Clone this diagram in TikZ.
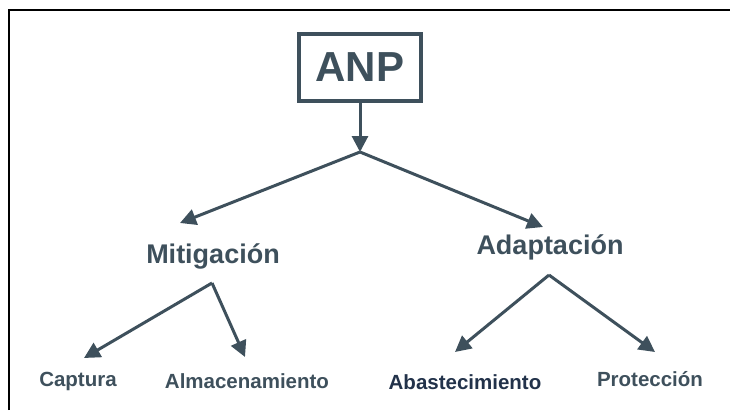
\documentclass[tikz,border=0pt]{standalone}
\usepackage{fontspec}
\setmainfont{Liberation Sans}
\usetikzlibrary{arrows.meta}
\definecolor{Slate}{HTML}{3E505C}
\definecolor{Navy}{HTML}{22324A}
\tikzset{
  lvlone/.style={text=Slate,font=\bfseries\fontsize{27}{27}\selectfont,inner sep=0pt},
  lvltwo/.style={text=Slate,font=\bfseries\fontsize{20.5}{20.5}\selectfont,inner sep=0pt},
  link/.style={->,Slate,line width=3pt}
}

\begin{document}
\begin{tikzpicture}[x=1pt,y=-1pt,>={Triangle[length=16pt,width=16pt]}]
    \useasboundingbox (0,0) rectangle (730,410);
    \draw[line width=2.5pt] (9,410)--(9,10)--(730,10);
    % top box
    \node[draw=Slate,line width=4pt,minimum width=122pt,minimum height=67pt,text=Slate,font=\bfseries\fontsize{42}{42}\selectfont] (anp) at (360,67) {ANP};
    \coordinate (j0) at (360,152);
    \coordinate (tl) at (180,223);\coordinate (tr) at (543,227);
    \node[lvlone] (mit) at (213,256) {Mitigación};
    \node[lvlone] (ada) at (550,247) {Adaptación};
    \coordinate (m0) at (212,283);\coordinate (a0) at (549,275);
    \coordinate (m1) at (84,358);\coordinate (m2) at (245,357);
    \coordinate (a1) at (455,352);\coordinate (a2) at (655,352);
    \node[lvltwo] (cap) at (78,381) {Captura};
    \node[lvltwo] (alm) at (247,381) {Almacenamiento};
    \node[lvltwo,text=Navy] (aba) at (465,382) {Abastecimiento};
    \node[lvltwo] (pro) at (650,379) {Protección};
    \draw[link] (anp.south)--(j0);
    \draw[link] (j0)--(tl);\draw[link] (j0)--(tr);
    \draw[link] (m0)--(m1);\draw[link] (m0)--(m2);
    \draw[link] (a0)--(a1);\draw[link] (a0)--(a2);
  \end{tikzpicture}
\end{document}
